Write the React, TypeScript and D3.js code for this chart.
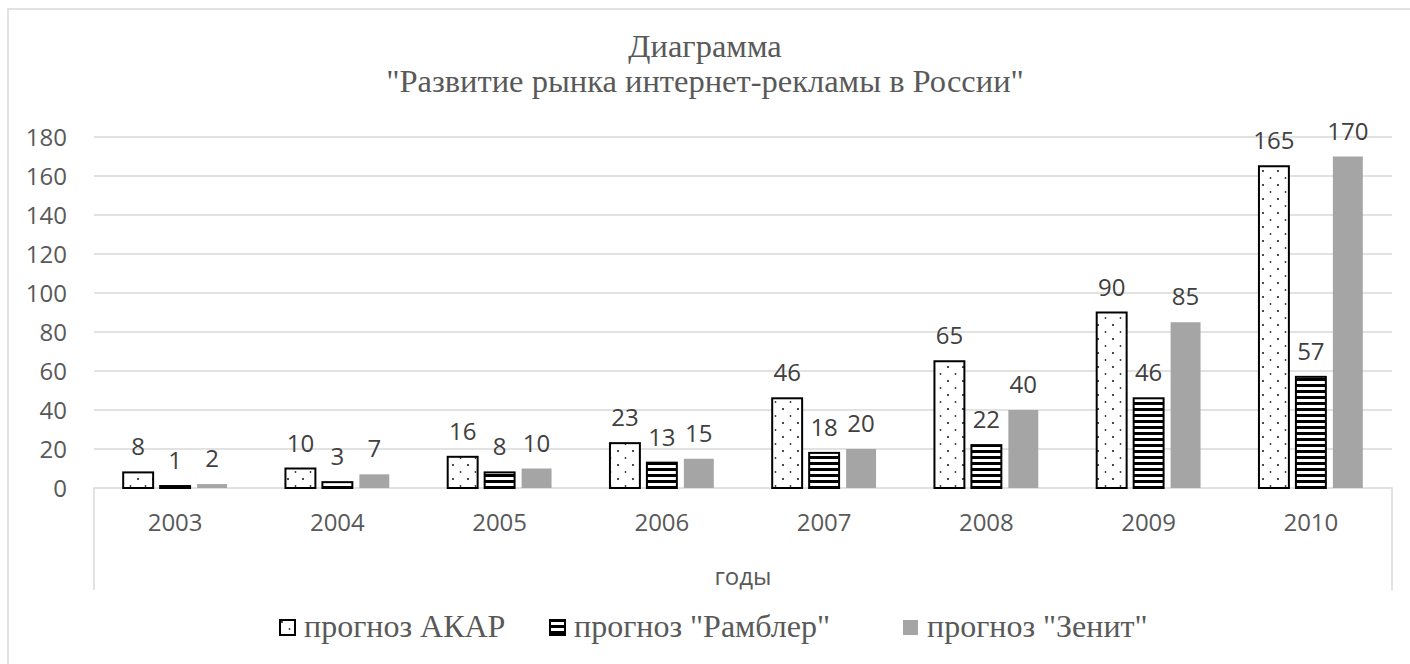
import * as d3 from "d3";

const years = ["2003", "2004", "2005", "2006", "2007", "2008", "2009", "2010"];
const akar = [8, 10, 16, 23, 46, 65, 90, 165];
const rambler = [1, 3, 8, 13, 18, 22, 46, 57];
const zenit = [2, 7, 10, 15, 20, 40, 85, 170];
const seriesNames = ['прогноз АКАР', 'прогноз "Рамблер"', 'прогноз "Зенит"'];
const yTicks = [0, 20, 40, 60, 80, 100, 120, 140, 160, 180];

const W = 1410;
const H = 664;
const sans = "'Open Sans', sans-serif";
const serif = "'Liberation Serif', 'Times New Roman', serif";
const fills = ["url(#dots)", "url(#stripes)", "#a5a5a5"];
const strokes = ["#000", "#000", "none"];

export default function App() {
  const series = [akar, rambler, zenit];
  const x = d3.scaleBand().domain(years).range([94, 1392]);
  const inner = d3
    .scaleBand<number>()
    .domain([0, 1, 2])
    .range([0, x.bandwidth()])
    .paddingInner(0.19)
    .paddingOuter(0.79);
  const y = d3.scaleLinear().domain([0, 180]).range([488, 137]);

  // legend item left edges
  const legendX = [279, 549, 902];

  return (
    <svg
      width={W}
      height={H}
      style={{ position: "absolute", left: 0, top: 0, background: "#fff" }}
    >
      <defs>
        <pattern id="dots" patternUnits="userSpaceOnUse" width="15" height="14">
          <rect width="15" height="14" fill="#fff" />
          <circle cx="3" cy="3" r="1.1" fill="#222" />
          <circle cx="10.5" cy="10" r="0.9" fill="#333" />
        </pattern>
        <pattern id="stripes" patternUnits="userSpaceOnUse" width="10" height="6">
          <rect width="10" height="6" fill="#fff" />
          <rect width="10" height="3" fill="#000" />
        </pattern>
      </defs>

      <rect x={8} y={9} width={W} height={H} fill="#fff" stroke="#d9d9d9" strokeWidth={1.5} />

      <text x={705} y={57} textAnchor="middle" fontFamily={serif} fontSize={32.5} fill="#595959">
        Диаграмма
      </text>
      <text x={705} y={92} textAnchor="middle" fontFamily={serif} fontSize={32.5} fill="#595959">
        "Развитие рынка интернет-рекламы в России"
      </text>

      {yTicks.map((t) => (
        <g key={t}>
          {t > 0 && (
            <line x1={94} x2={1392} y1={y(t)} y2={y(t)} stroke="#d9d9d9" strokeWidth={1.5} />
          )}
          <text
            x={67}
            y={y(t)}
            dy="0.36em"
            textAnchor="end"
            fontFamily={sans}
            fontSize={24}
            fill="#595959"
          >
            {t}
          </text>
        </g>
      ))}

      {/* category axis box */}
      <path d={`M94,590V${y(0)}H1392V590`} fill="none" stroke="#d9d9d9" strokeWidth={1.5} />

      {series.map((vals, s) =>
        vals.map((v, i) => {
          const bx = x(years[i])! + inner(s)!;
          const bw = inner.bandwidth();
          return (
            <g key={s + "-" + i}>
              <rect
                x={bx}
                y={y(v)}
                width={bw}
                height={y(0) - y(v)}
                fill={fills[s]}
                stroke={strokes[s]}
                strokeWidth={2}
              />
              <text
                x={bx + bw / 2}
                y={y(v) - 17}
                textAnchor="middle"
                fontFamily={sans}
                fontSize={24}
                fill="#404040"
              >
                {v}
              </text>
            </g>
          );
        })
      )}

      {years.map((yr) => (
        <text
          key={yr}
          x={x(yr)! + x.bandwidth() / 2}
          y={531}
          textAnchor="middle"
          fontFamily={sans}
          fontSize={24}
          fill="#595959"
        >
          {yr}
        </text>
      ))}

      <text x={743} y={585} textAnchor="middle" fontFamily={sans} fontSize={24} fill="#595959">
        годы
      </text>

      {seriesNames.map((name, s) => (
        <g key={name} transform={`translate(${legendX[s]},619)`}>
          <rect
            x={1}
            y={1}
            width={15}
            height={15}
            fill={fills[s]}
            stroke={strokes[s]}
            strokeWidth={2}
          />
          <text x={25} y={18} fontFamily={serif} fontSize={32} fill="#595959">
            {name}
          </text>
        </g>
      ))}
    </svg>
  );
}
